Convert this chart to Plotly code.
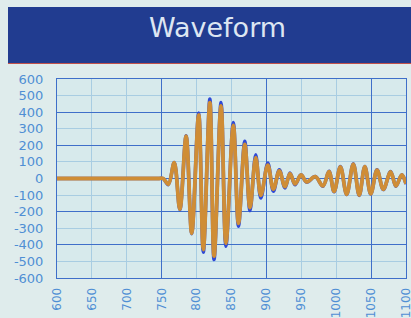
import plotly.graph_objects as go

# Sample times (extrema positions)
t_ms = [600, 650, 700, 745, 752, 759.5, 768, 776, 785, 793, 803, 809.6, 819, 825, 835, 842,
        852.6, 860, 869, 876.5, 884.7, 892, 902, 910, 918.5, 926.6, 933.8, 941,
        949.6, 957.7, 970, 981, 989.7, 997, 1006, 1015, 1024.5, 1033, 1041,
        1049.5, 1058.5, 1067.5, 1078, 1085.5, 1094, 1100]

# Raw signal (blue, peaks show behind the orange)
raw = [0, 0, 0, 0, 0, -37, 97, -188, 258, -333, 395, -445, 479, -489, 458, -409,
       338, -288, 224, -194, 143, -118, 93, -77, 53, -57, 33, -37,
       22, -22, 12, -47, 43, -80, 72, -97, 89, -102, 73,
       -94, 53, -67, 42, -47, 23, -34]

# Filtered signal (orange)
filtered = [0, 0, 0, 0, 0, -35, 95, -185, 255, -330, 383, -428, 458, -468, 438, -390,
            320, -270, 205, -176, 126, -102, 80, -64, 46, -49, 30, -33,
            21, -21, 11, -45, 41, -78, 70, -95, 87, -100, 71,
            -92, 51, -65, 40, -45, 22, -32]

x_ticks = [600, 650, 700, 750, 800, 850, 900, 950, 1000, 1050, 1100]
y_ticks = [600, 500, 400, 300, 200, 100, 0, -100, -200, -300, -400, -500, -600]

label_col = "#4f8fd4"
major_col = "#3f6fc9"
minor_col = "#a8cde2"

fig = go.Figure()
fig.add_trace(go.Scatter(x=t_ms, y=raw, mode="lines",
                         line=dict(color="#2f4ad6", width=3.5, shape="spline", smoothing=1.0),
                         hoverinfo="skip", showlegend=False))
fig.add_trace(go.Scatter(x=t_ms, y=filtered, mode="lines",
                         line=dict(color="#cf8d36", width=3.8, shape="spline", smoothing=1.0),
                         showlegend=False))
# dummy trace on overlay axes for major grid
fig.add_trace(go.Scatter(x=[None], y=[None], xaxis="x2", yaxis="y2", showlegend=False))

fig.update_layout(
    width=411, height=318,
    margin=dict(l=57, r=5, t=79, b=40),
    paper_bgcolor="#dfecec",
    plot_bgcolor="#d7eaec",
    font=dict(family="DejaVu Sans", color=label_col, size=12),
    xaxis=dict(range=[600, 1100], tickvals=x_ticks, ticktext=[str(v) for v in x_ticks],
               tickangle=-90, showgrid=True, gridcolor=minor_col, gridwidth=1,
               showline=True, linecolor=major_col, linewidth=1, mirror=True,
               zeroline=False, ticks="", ticklabelstandoff=4, automargin=False,
               ticklabeloverflow="allow",
               tickfont=dict(size=12, color=label_col)),
    yaxis=dict(range=[-600, 600], tickvals=y_ticks, ticktext=[str(v) for v in y_ticks],
               showgrid=True, gridcolor=minor_col, gridwidth=1,
               showline=True, linecolor=major_col, linewidth=1, mirror=True,
               zeroline=False, ticks="", ticklabelstandoff=10, automargin=False,
               tickfont=dict(size=13, color=label_col)),
    xaxis2=dict(range=[600, 1100], overlaying="x", tick0=600, dtick=150,
                showgrid=True, gridcolor=major_col, gridwidth=1,
                showticklabels=False, zeroline=False, showline=False, ticks=""),
    yaxis2=dict(range=[-600, 600], overlaying="y", tick0=0, dtick=200,
                showgrid=True, gridcolor=major_col, gridwidth=1,
                showticklabels=False, zeroline=False, showline=False, ticks=""),
    shapes=[
        dict(type="rect", xref="paper", yref="paper", x0=-0.1404, x1=1.02,
             y0=1.0804, y1=1.3618, fillcolor="#213c90", line=dict(width=0), layer="above"),
        dict(type="line", xref="paper", yref="paper", x0=-0.1404, x1=1.02,
             y0=1.0779, y1=1.0779, line=dict(color="#c0504a", width=1)),
    ],
    annotations=[
        dict(text="Waveform", xref="paper", yref="paper", x=0.46, y=1.26,
             xanchor="center", yanchor="middle", showarrow=False,
             font=dict(family="DejaVu Sans", size=27, color="#dde6f2")),
    ],
)

fig.write_html("out.html", config={"displayModeBar": False},
               post_script="document.body.style.margin='0';document.body.style.background='#dfecec';")
